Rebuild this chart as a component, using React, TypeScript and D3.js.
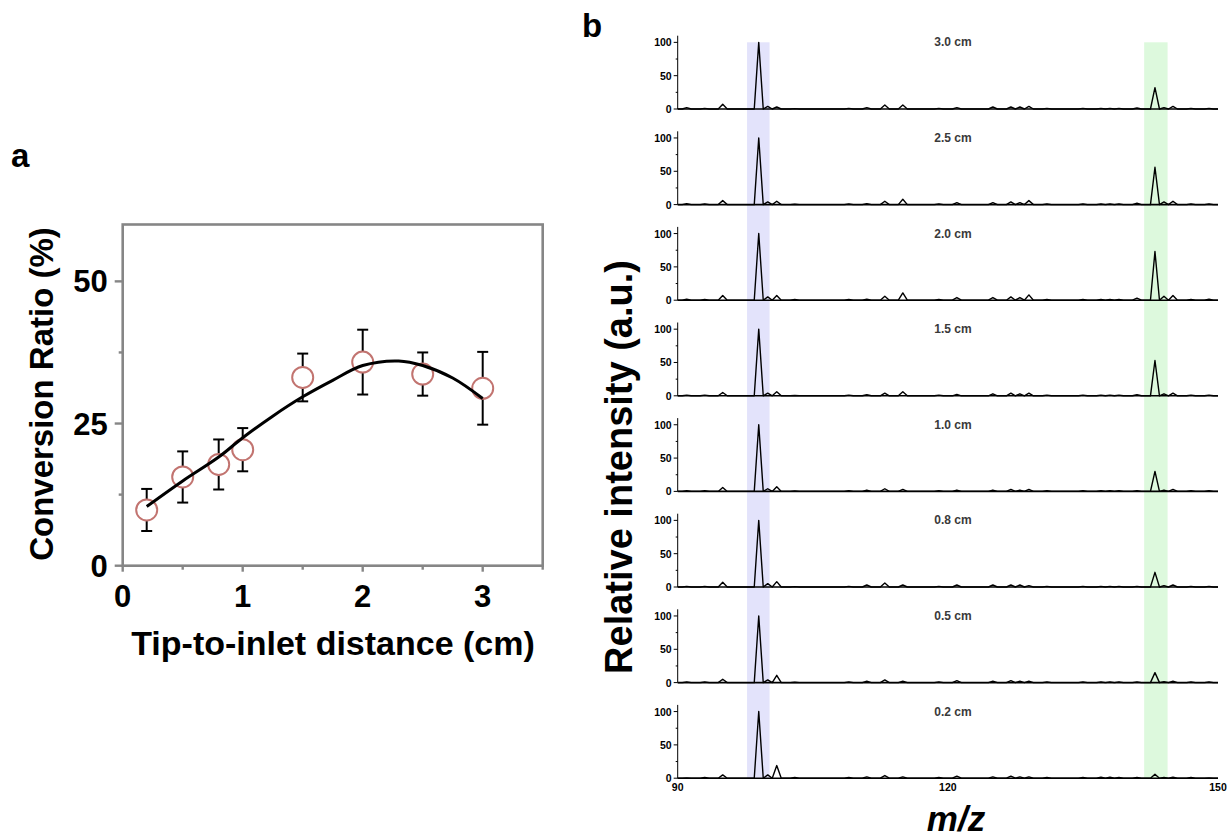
import React from "react";
import * as d3 from "d3";

// ---------- Panel a data ----------
const distances = [0.2, 0.5, 0.8, 1.0, 1.5, 2.0, 2.5, 3.0];
const ratios = [9.8, 15.6, 17.8, 20.4, 33.1, 35.8, 33.7, 31.2];
const errors = [3.7, 4.5, 4.4, 3.8, 4.2, 5.7, 3.8, 6.4];
const fitX = [0.2, 0.5, 0.8, 1.0, 1.25, 1.5, 1.75, 2.0, 2.3, 2.5, 2.75, 3.0];
const fitY = [10.4, 14.9, 19.1, 22.5, 26.3, 29.7, 32.6, 35.2, 36.0, 35.2, 33.0, 29.4];
const xTicksA = [0, 1, 2, 3];
const xMinorA = [0.5, 1.5, 2.5, 3.5];
const yTicksA = [0, 25, 50];
const yMinorA = [12.5, 37.5];

// ---------- Panel b data ----------
const mzPeaks = [91, 93, 95, 99, 100, 101, 103, 109, 111, 113, 115, 119, 121, 125, 127, 128, 129, 131, 135, 137, 138, 139, 141, 143, 144, 145, 147, 149];
const panelLabels = ["3.0 cm", "2.5 cm", "2.0 cm", "1.5 cm", "1.0 cm", "0.8 cm", "0.5 cm", "0.2 cm"];
const int30 = [2, 1, 7, 100, 4, 3, 0.5, 1, 2, 6, 6, 1, 2, 3, 3, 3, 4, 1, 1, 1, 1, 1, 1.5, 32, 2, 4, 1, 1];
const int25 = [1.5, 1, 6, 100, 4, 5, 0.5, 1, 1.5, 5, 8, 1, 3, 3, 4, 3, 6, 1, 1, 1, 1, 1, 2, 56, 4, 5, 1, 1];
const int20 = [1.5, 1, 7, 100, 5, 7, 1, 1, 1.5, 6, 11, 1, 4, 4, 5, 4, 8, 1, 1, 1, 1, 1, 3, 73, 6, 7, 1, 1.5];
const int15 = [1, 1, 5, 100, 4, 6, 0.5, 1, 1.5, 4, 6, 1, 2, 3, 4, 3, 4, 1, 1, 1, 1, 1, 1.5, 53, 3, 4, 1, 1];
const int10 = [1, 1, 6, 100, 4, 7, 0.5, 1, 2, 4, 3, 1, 2, 2, 3, 2, 3, 1, 1, 1, 1, 1, 1, 30, 2, 3, 1, 1];
const int08 = [1, 1, 7, 100, 5, 8, 0.5, 1, 3, 6, 3, 1, 3, 3, 3, 3, 2, 1, 1, 1, 1, 1, 1, 22, 2, 3, 1, 1];
const int05 = [1, 1, 5, 100, 4, 11, 0.5, 1, 2, 4, 2, 1, 3, 2, 3, 2, 2, 1, 1, 1, 1, 1, 1, 15, 1.5, 2, 1, 1];
const int02 = [0.5, 1, 5, 100, 5, 19, 1, 1, 2, 4, 2, 1, 3, 2, 3, 2, 2, 1, 1, 1.5, 1.5, 1, 1, 6, 1, 1.5, 1, 0.5];
const panelIntensities = [int30, int25, int20, int15, int10, int08, int05, int02];
const xTickLabelsB = [90, 120, 150];
const yTicksB = [0, 50, 100];
const yMinorB = [25, 75];
const bandBlue = [97.7, 100.2];
const bandGreen = [141.8, 144.4];

const FONT = "Arial, 'Liberation Sans', Helvetica, sans-serif";

export default function App() {
  // Panel a scales
  const xa = d3.scaleLinear().domain([0, 3.5]).range([122.7, 542.7]);
  const ya = d3.scaleLinear().domain([0, 60]).range([565.7, 224.5]);
  const axisGray = "#868686";
  const fitLine = d3
    .line<number>()
    .x((_, i) => xa(fitX[i]))
    .y((d) => ya(d))
    .curve(d3.curveCatmullRom);

  // Panel b scales
  const xb = d3.scaleLinear().domain([90, 150]).range([677.7, 1218]);
  const y0s = panelLabels.map((_, i) => 109 + i * 95.6);
  const peakHalf = 0.5;

  const spectrumPath = (ints: number[], yb: d3.ScaleLinear<number, number>) => {
    const pts: [number, number][] = [[90, 0]];
    mzPeaks.forEach((m, i) => {
      pts.push([m - peakHalf, 0], [m, ints[i]], [m + peakHalf, 0]);
    });
    pts.push([150, 0]);
    return d3
      .line<[number, number]>()
      .x((d) => xb(d[0]))
      .y((d) => yb(d[1]))(pts) as string;
  };

  const bandTop = y0s[0] - 66.7;
  const bandBottom = y0s[y0s.length - 1];

  return (
    <svg
      width={1229}
      height={840}
      style={{ position: "absolute", left: 0, top: 0, background: "#fff" }}
      fontFamily={FONT}
    >
      {/* ================= Panel a ================= */}
      <text x={11} y={167} fontSize={33} fontWeight="bold">a</text>
      <rect
        x={xa(0)}
        y={ya(60)}
        width={xa(3.5) - xa(0)}
        height={ya(0) - ya(60)}
        fill="none"
        stroke={axisGray}
        strokeWidth={2.6}
      />
      {xTicksA.map((t) => (
        <g key={"xt" + t}>
          <line x1={xa(t)} x2={xa(t)} y1={ya(0)} y2={ya(0) + 6} stroke={axisGray} strokeWidth={2.4} />
          <text x={xa(t)} y={607} fontSize={31} fontWeight="bold" textAnchor="middle">{t}</text>
        </g>
      ))}
      {xMinorA.map((t) => (
        <line key={"xm" + t} x1={xa(t)} x2={xa(t)} y1={ya(0)} y2={ya(0) + 4} stroke={axisGray} strokeWidth={2.4} />
      ))}
      {yTicksA.map((t) => (
        <g key={"yt" + t}>
          <line x1={xa(0) - 8} x2={xa(0)} y1={ya(t)} y2={ya(t)} stroke={axisGray} strokeWidth={2.4} />
          <text x={xa(0) - 15} y={ya(t) + 11} fontSize={31} fontWeight="bold" textAnchor="end">{t}</text>
        </g>
      ))}
      {yMinorA.map((t) => (
        <line key={"ym" + t} x1={xa(0) - 4} x2={xa(0)} y1={ya(t)} y2={ya(t)} stroke={axisGray} strokeWidth={2.4} />
      ))}
      {distances.map((d, i) => {
        const x = xa(d);
        const yt = ya(ratios[i] + errors[i]);
        const yb = ya(ratios[i] - errors[i]);
        return (
          <g key={"eb" + i} stroke="#000" strokeWidth={2}>
            <line x1={x} x2={x} y1={yt} y2={yb} />
            <line x1={x - 5.5} x2={x + 5.5} y1={yt} y2={yt} />
            <line x1={x - 5.5} x2={x + 5.5} y1={yb} y2={yb} />
          </g>
        );
      })}
      {distances.map((d, i) => (
        <circle key={"pt" + i} cx={xa(d)} cy={ya(ratios[i])} r={10.5} fill="#fff" stroke="#c27470" strokeWidth={2} />
      ))}
      <path d={fitLine(fitY) as string} fill="none" stroke="#000" strokeWidth={3} />
      <text
        transform={`translate(53,394) rotate(-90)`}
        fontSize={33}
        fontWeight="bold"
        textAnchor="middle"
      >
        Conversion Ratio (%)
      </text>
      <text x={333} y={655} fontSize={34} fontWeight="bold" textAnchor="middle">
        Tip-to-inlet distance (cm)
      </text>

      {/* ================= Panel b ================= */}
      <text x={582} y={37} fontSize={33} fontWeight="bold">b</text>
      <rect
        x={xb(bandBlue[0])}
        y={bandTop}
        width={xb(bandBlue[1]) - xb(bandBlue[0])}
        height={bandBottom - bandTop}
        fill="#e3e3fb"
      />
      <rect
        x={xb(bandGreen[0])}
        y={bandTop}
        width={xb(bandGreen[1]) - xb(bandGreen[0])}
        height={bandBottom - bandTop}
        fill="#ddf9dd"
      />
      {panelLabels.map((lab, i) => {
        const y0 = y0s[i];
        const yb = d3.scaleLinear().domain([0, 110]).range([y0, y0 - 73.3]);
        return (
          <g key={"p" + i}>
            <line x1={xb(90)} x2={xb(90)} y1={yb(0)} y2={yb(110)} stroke="#000" strokeWidth={1} />
            {yTicksB.map((t) => (
              <g key={"bt" + t}>
                <line x1={xb(90) - 4} x2={xb(90)} y1={yb(t)} y2={yb(t)} stroke="#000" strokeWidth={1} />
                <text x={xb(90) - 6} y={yb(t) + 4} fontSize={10.5} fontWeight="bold" textAnchor="end">{t}</text>
              </g>
            ))}
            {yMinorB.map((t) => (
              <line key={"bm" + t} x1={xb(90) - 2} x2={xb(90)} y1={yb(t)} y2={yb(t)} stroke="#000" strokeWidth={1} />
            ))}
            <line x1={xb(90)} x2={xb(150)} y1={yb(0)} y2={yb(0)} stroke="#000" strokeWidth={1.6} />
            <path d={spectrumPath(panelIntensities[i], yb)} fill="none" stroke="#000" strokeWidth={1.4} strokeLinejoin="round" />
            <text x={953} y={yb(100) + 4} fontSize={12} fontWeight="bold" fill="#3a3a3a" textAnchor="middle">{lab}</text>
          </g>
        );
      })}
      {xTickLabelsB.map((t) => (
        <text key={"bx" + t} x={xb(t)} y={791} fontSize={10.5} fontWeight="bold" textAnchor="middle">{t}</text>
      ))}
      <text
        transform={`translate(632,467) rotate(-90)`}
        fontSize={38}
        fontWeight="bold"
        textAnchor="middle"
      >
        Relative intensity (a.u.)
      </text>
      <text x={956} y={831} fontSize={35} fontWeight="bold" fontStyle="italic" textAnchor="middle">
        m/z
      </text>
    </svg>
  );
}
